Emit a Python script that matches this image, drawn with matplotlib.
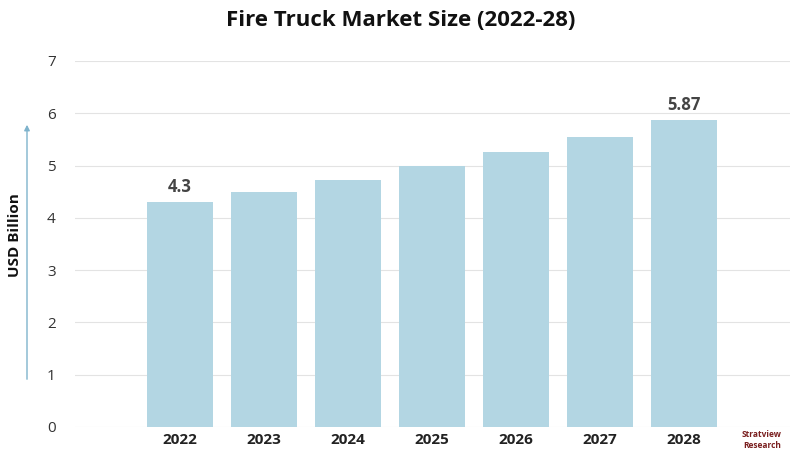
import matplotlib
matplotlib.use("Agg")
import matplotlib.pyplot as plt

years = ["2022", "2023", "2024", "2025", "2026", "2027", "2028"]
values = [4.3, 4.5, 4.73, 4.99, 5.25, 5.54, 5.87]
labels = {0: "4.3", 6: "5.87"}

plt.rcParams['font.family'] = ['Open Sans', 'DejaVu Sans']
fig = plt.figure(figsize=(8.02, 4.59), dpi=100)
ax = fig.add_axes([75/802, 1-427/459, 715/802, 366/459])
x = list(range(len(years)))
ax.bar(x, values, width=0.79, color="#b3d6e3", zorder=2)
ax.set_xlim(-1.25, 7.26)
ax.set_ylim(0, 7)
ax.set_yticks(range(8))
ax.yaxis.grid(True, color="#e3e3e3", linewidth=0.8, zorder=0)
ax.set_xticks(x)
ax.set_xticklabels(years, fontsize=11, fontweight='bold', color="#222222")
ax.tick_params(axis='y', labelsize=11, colors="#333333", length=0, pad=14)
ax.tick_params(axis='x', length=0, pad=4)
for s in ax.spines.values():
    s.set_visible(False)
for i, t in labels.items():
    ax.text(i, values[i] + 0.12, t, ha='center', va='bottom', fontsize=12, fontweight='bold', color="#444444")
fig.text(0.5, 1-20/459, "Fire Truck Market Size (2022-28)", ha='center', va='center', fontsize=16, fontweight='bold', color="#111111")
fig.text(15/802, 1-235/459, "USD Billion", rotation=90, ha='center', va='center', fontsize=11, fontweight='bold', color="#111111")
fig.add_artist(matplotlib.patches.FancyArrowPatch((27/802, 1-382/459), (27/802, 1-122/459), transform=fig.transFigure, arrowstyle='-|>', mutation_scale=8, color="#7fb3cc", linewidth=1))
fig.text(762/802, 1-440/459, "Stratview\nResearch", ha='center', va='center', fontsize=6, color="#7a1f1f", fontweight='bold')
fig.savefig("out.png", dpi=100)
